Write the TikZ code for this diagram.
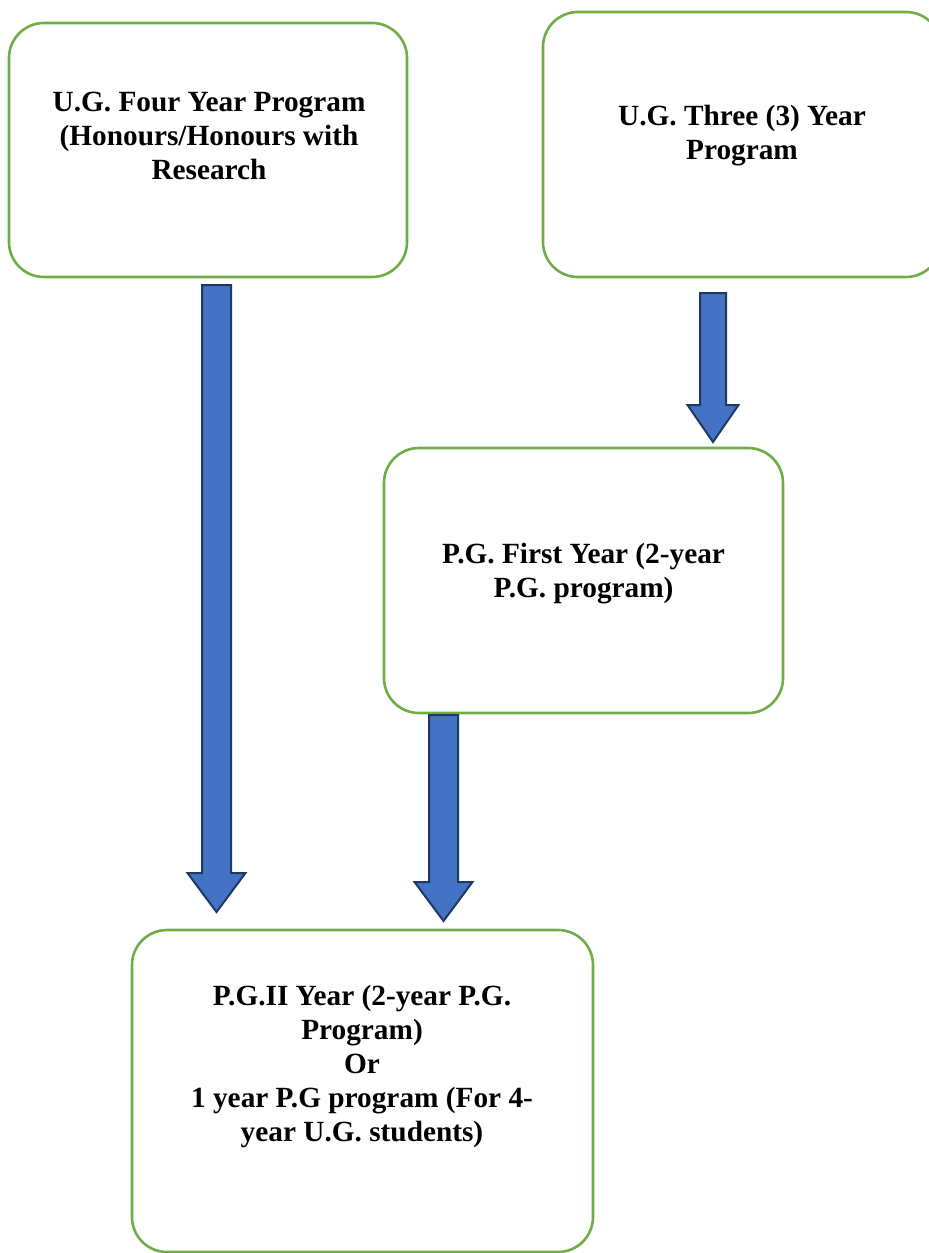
\documentclass[tikz,border=0pt]{standalone}
\usepackage{fontspec}
\setmainfont{Liberation Serif}
\definecolor{boxgreen}{HTML}{70AD47}
\definecolor{arrowblue}{HTML}{4472C4}
\definecolor{arrowline}{HTML}{1F3864}
\begin{document}
\begin{tikzpicture}[x=1pt,y=-1pt,
  progbox/.style={draw=boxgreen,line width=2.6pt,rounded corners=35pt,fill=white},
  boxtext/.style={align=center,font=\fontsize{29.3}{34}\selectfont\bfseries,inner sep=0pt},
  blockarrow/.style={fill=arrowblue,draw=arrowline,line width=2pt,line join=miter}]
\useasboundingbox (0,0) rectangle (929,1253);
\clip (0,0) rectangle (929,1253);
% boxes
\draw[progbox] (9,23) rectangle (407,277);
\draw[progbox] (543,12) rectangle (941,277);
\draw[progbox] (384,448) rectangle (783,713);
\draw[progbox] (132,930) rectangle (593,1252);
% texts
\node[boxtext] (t1) at (209,136) {U.G. Four Year Program\\(Honours/Honours with\\Research};
\node[boxtext] (t2) at (742,136) {U.G. Three (3) Year\\Program};
\node[boxtext] (t3) at (583.5,574) {P.G. First Year (2-year\\P.G. program)};
\node[boxtext] (t4) at (362,1066) {P.G.II Year (2-year P.G.\\Program)\\Or\\1 year P.G program (For 4-\\year U.G. students)};
% block arrows
\newcommand{\myblockarrow}[6]{%
  \draw[blockarrow] (#1-#3,#2) -- (#1+#3,#2) -- (#1+#3,#4) -- (#1+#5,#4) -- (#1,#6) -- (#1-#5,#4) -- (#1-#3,#4) -- cycle;}
\myblockarrow{216.5}{285}{14.5}{873}{29}{912}
\myblockarrow{713}{293}{13}{405}{25.5}{442}
\myblockarrow{443.5}{715}{14.5}{882}{29}{921}
\end{tikzpicture}
\end{document}
